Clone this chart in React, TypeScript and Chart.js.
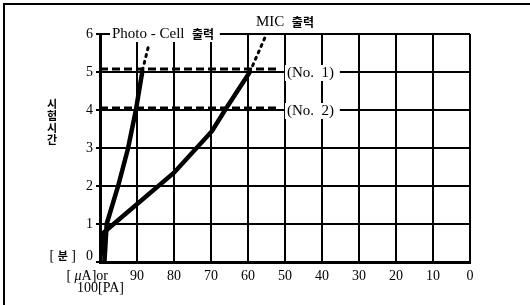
import React, { useEffect, useRef } from "react";
import { Chart, registerables } from "chart.js";

Chart.register(...registerables);

// Data (x: output [μA] or [PA], y: test time [min])
const photoX = [98.8, 98.2, 95.1, 92.4, 90.3, 88.5];
const photoY = [0, 1, 2, 3, 4, 5.05];
const photoDotX = [88.5, 86.8];
const photoDotY = [5.05, 5.72];
const micX = [100, 99.3, 97.5, 80, 69.7, 66.2, 59.5];
const micY = [0, 0.75, 0.9, 2.35, 3.45, 4.0, 5.0];
const micDotX = [59.5, 55];
const micDotY = [5.0, 6.0];
const no1X = [100, 51.5];
const no1Y = [5.08, 5.08];
const no2X = [100, 51.5];
const no2Y = [4.05, 4.05];
const yTicks = [0, 1, 2, 3, 4, 5, 6];
const xTicks = [90, 80, 70, 60, 50, 40, 30, 20, 10, 0];

const SERIF = "'Liberation Serif', 'DejaVu Serif', serif";
const KR = "'Noto Sans CJK KR', sans-serif";

const pts = (xs: number[], ys: number[]) => xs.map((x, i) => ({ x, y: ys[i] }));

type Part = { t: string; f: string };

function drawParts(ctx: CanvasRenderingContext2D, parts: Part[], x: number, y: number, align: string, bg: boolean) {
  let total = 0;
  for (const p of parts) {
    ctx.font = p.f;
    total += ctx.measureText(p.t).width;
  }
  let sx = align === "right" ? x - total : align === "center" ? x - total / 2 : x;
  if (bg) {
    ctx.fillStyle = "#fff";
    ctx.fillRect(sx - 2, y - 8, total + 4, 16);
  }
  ctx.fillStyle = "#000";
  ctx.textAlign = "left";
  ctx.textBaseline = "middle";
  for (const p of parts) {
    ctx.font = p.f;
    ctx.fillText(p.t, sx, y);
    sx += ctx.measureText(p.t).width;
  }
}

const labelPlugin = {
  id: "labels",
  afterDraw(chart: any) {
    const ctx: CanvasRenderingContext2D = chart.ctx;
    const xs = chart.scales.x;
    const ys = chart.scales.y;
    const left = chart.chartArea.left;
    const bottom = chart.chartArea.bottom;
    const num = `14px ${SERIF}`;
    const big = `15px ${SERIF}`;
    const kr = `bold 12px ${KR}`;
    ctx.save();
    // y tick marks and labels
    ctx.strokeStyle = "#000";
    ctx.lineWidth = 2;
    for (const v of yTicks) {
      const py = ys.getPixelForValue(v);
      ctx.beginPath();
      ctx.moveTo(left - 4, py);
      ctx.lineTo(left, py);
      ctx.stroke();
      drawParts(ctx, [{ t: String(v), f: num }], left - 7, v === 0 ? py - 6 : py, "right", false);
    }
    drawParts(ctx, [{ t: "[ ", f: num }, { t: "분", f: `bold 11px ${KR}` }, { t: " ]", f: num }], 76, ys.getPixelForValue(0) - 6, "right", false);
    // y title
    const ttl = ["시", "험", "시", "간"];
    ttl.forEach((c, i) => drawParts(ctx, [{ t: c, f: `bold 11px ${KR}` }], 52, 104 + i * 12, "center", false));
    // x labels
    for (const v of xTicks) {
      drawParts(ctx, [{ t: String(v), f: num }], xs.getPixelForValue(v), bottom + 14, "center", false);
    }
    drawParts(ctx, [{ t: "[ ", f: num }, { t: "μ", f: `italic 14px ${SERIF}` }, { t: "A]or", f: num }], 108, bottom + 14, "right", false);
    drawParts(ctx, [{ t: "100[PA]", f: num }], 77, bottom + 26, "left", false);
    // series annotations
    drawParts(ctx, [{ t: "Photo - Cell  ", f: big }, { t: "출력", f: kr }, { t: " ", f: big }], 112, ys.getPixelForValue(6), "left", true);
    drawParts(ctx, [{ t: "MIC  ", f: big }, { t: "출력", f: kr }, { t: " ", f: big }], 256, ys.getPixelForValue(6) - 12, "left", true);
    drawParts(ctx, [{ t: "(No.  1) ", f: big }], 287, ys.getPixelForValue(5.0) + 1, "left", true);
    drawParts(ctx, [{ t: "(No.  2) ", f: big }], 287, ys.getPixelForValue(4.0) + 1, "left", true);
    // frame lines (top and left)
    ctx.strokeStyle = "#000";
    ctx.lineWidth = 2;
    ctx.beginPath();
    ctx.moveTo(4, 305);
    ctx.lineTo(4, 4);
    ctx.lineTo(530, 4);
    ctx.stroke();
    ctx.restore();
  },
};

export default function App() {
  const ref = useRef<HTMLCanvasElement>(null);
  useEffect(() => {
    if (!ref.current) return;
    const solid = (data: any) => ({
      data,
      borderColor: "#000",
      borderWidth: 4.5,
      pointRadius: 0,
      tension: 0,
      fill: false,
    });
    const chart = new Chart(ref.current, {
      type: "line",
      data: {
        datasets: [
          { ...solid(pts(photoX, photoY)), label: "Photo-Cell" },
          { ...solid(pts(photoDotX, photoDotY)), borderWidth: 3, borderDash: [2, 5], borderCapStyle: "round", label: "Photo-Cell ext" },
          { ...solid(pts(micX, micY)), label: "MIC" },
          { ...solid(pts(micDotX, micDotY)), borderWidth: 3, borderDash: [2, 5], borderCapStyle: "round", label: "MIC ext" },
          { ...solid(pts(no1X, no1Y)), borderWidth: 3, borderDash: [8, 4], label: "No. 1" },
          { ...solid(pts(no2X, no2Y)), borderWidth: 3, borderDash: [8, 4], label: "No. 2" },
        ] as any,
      },
      options: {
        animation: false,
        responsive: false,
        layout: { padding: { left: 100, right: 60, top: 34, bottom: 43 } },
        plugins: { legend: { display: false }, tooltip: { enabled: false } },
        scales: {
          x: {
            type: "linear",
            reverse: true,
            min: 0,
            max: 100,
            ticks: { display: false, stepSize: 10 },
            grid: { color: "#000", lineWidth: 2, drawTicks: false },
            border: { color: "#000", width: 3 },
            afterFit: (s: any) => { s.height = 0; },
          },
          y: {
            type: "linear",
            min: 0,
            max: 6,
            ticks: { display: false, stepSize: 1 },
            grid: { color: "#000", lineWidth: 2, drawTicks: false },
            border: { color: "#000", width: 3 },
            afterFit: (s: any) => { s.width = 0; },
          },
        },
      } as any,
      plugins: [labelPlugin],
    });
    return () => chart.destroy();
  }, []);
  return (
    <div style={{ position: "fixed", left: 0, top: 0, width: 530, height: 305, background: "#fff" }}>
      <canvas ref={ref} width={530} height={305} />
    </div>
  );
}
